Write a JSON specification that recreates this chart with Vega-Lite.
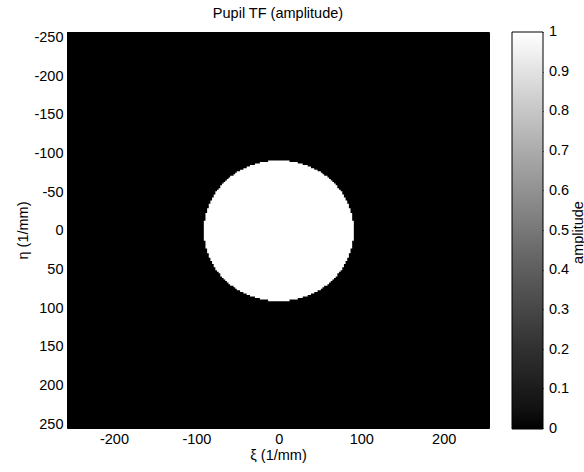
{
  "$schema": "https://vega.github.io/schema/vega-lite/v6.json",
  "width": 422,
  "height": 396,
  "autosize": {"type": "none"},
  "padding": {"left": 67, "top": 32, "right": 95, "bottom": 44},
  "background": "white",
  "title": {
    "text": "Pupil TF (amplitude)",
    "font": "Liberation Sans",
    "fontSize": 14.5,
    "fontWeight": "normal",
    "color": "black",
    "offset": 8
  },
  "data": {
    "values": [
      {"eta0": -257, "eta1": 255, "xi0": -257, "xi1": 255, "amplitude": 0},
      {"eta0": -13, "eta1": 13, "xi0": -91, "xi1": 91, "amplitude": 1},
      {"eta0": -23, "eta1": 23, "xi0": -89, "xi1": 89, "amplitude": 1},
      {"eta0": -29, "eta1": 29, "xi0": -87, "xi1": 87, "amplitude": 1},
      {"eta0": -35, "eta1": 35, "xi0": -85, "xi1": 85, "amplitude": 1},
      {"eta0": -39, "eta1": 39, "xi0": -83, "xi1": 83, "amplitude": 1},
      {"eta0": -43, "eta1": 43, "xi0": -81, "xi1": 81, "amplitude": 1},
      {"eta0": -47, "eta1": 47, "xi0": -79, "xi1": 79, "amplitude": 1},
      {"eta0": -51, "eta1": 51, "xi0": -77, "xi1": 77, "amplitude": 1},
      {"eta0": -53, "eta1": 53, "xi0": -75, "xi1": 75, "amplitude": 1},
      {"eta0": -55, "eta1": 55, "xi0": -73, "xi1": 73, "amplitude": 1},
      {"eta0": -59, "eta1": 59, "xi0": -71, "xi1": 71, "amplitude": 1},
      {"eta0": -61, "eta1": 61, "xi0": -69, "xi1": 69, "amplitude": 1},
      {"eta0": -63, "eta1": 63, "xi0": -67, "xi1": 67, "amplitude": 1},
      {"eta0": -65, "eta1": 65, "xi0": -65, "xi1": 65, "amplitude": 1},
      {"eta0": -67, "eta1": 67, "xi0": -63, "xi1": 63, "amplitude": 1},
      {"eta0": -69, "eta1": 69, "xi0": -61, "xi1": 61, "amplitude": 1},
      {"eta0": -71, "eta1": 71, "xi0": -59, "xi1": 59, "amplitude": 1},
      {"eta0": -73, "eta1": 73, "xi0": -55, "xi1": 55, "amplitude": 1},
      {"eta0": -75, "eta1": 75, "xi0": -53, "xi1": 53, "amplitude": 1},
      {"eta0": -77, "eta1": 77, "xi0": -51, "xi1": 51, "amplitude": 1},
      {"eta0": -79, "eta1": 79, "xi0": -47, "xi1": 47, "amplitude": 1},
      {"eta0": -81, "eta1": 81, "xi0": -43, "xi1": 43, "amplitude": 1},
      {"eta0": -83, "eta1": 83, "xi0": -39, "xi1": 39, "amplitude": 1},
      {"eta0": -85, "eta1": 85, "xi0": -35, "xi1": 35, "amplitude": 1},
      {"eta0": -87, "eta1": 87, "xi0": -29, "xi1": 29, "amplitude": 1},
      {"eta0": -89, "eta1": 89, "xi0": -23, "xi1": 23, "amplitude": 1},
      {"eta0": -91, "eta1": 91, "xi0": -13, "xi1": 13, "amplitude": 1}
    ]
  },
  "resolve": {"scale": {"y": "independent"}, "axis": {"y": "independent"}},
  "layer": [
    {
      "mark": {"type": "rect"},
      "encoding": {
        "x": {
          "field": "xi0",
          "type": "quantitative",
          "title": "ξ (1/mm)",
          "scale": {"domain": [-257, 255], "nice": false, "zero": false},
          "axis": {
            "values": [-200, -100, 0, 100, 200],
            "labelExpr": "(datum.value < 0 ? '-' : '') + abs(datum.value)",
            "ticks": false,
            "grid": false,
            "domain": false,
            "labelPadding": 4,
            "labelFont": "Liberation Sans",
            "labelFontSize": 14.5,
            "labelColor": "black",
            "titleFont": "Liberation Sans",
            "titleFontSize": 14.5,
            "titleFontWeight": "normal",
            "titleColor": "black",
            "titlePadding": 3
          }
        },
        "x2": {"field": "xi1"},
        "y": {
          "field": "eta0",
          "type": "quantitative",
          "title": "η (1/mm)",
          "scale": {"domain": [-257, 255], "reverse": true, "nice": false, "zero": false},
          "axis": {
            "orient": "left",
            "values": [-250, -200, -150, -100, -50, 0, 50, 100, 150, 200, 250],
            "labelExpr": "(datum.value < 0 ? '-' : '') + abs(datum.value)",
            "ticks": false,
            "grid": false,
            "domain": false,
            "labelPadding": 4,
            "labelFont": "Liberation Sans",
            "labelFontSize": 14.5,
            "labelColor": "black",
            "titleFont": "Liberation Sans",
            "titleFontSize": 14.5,
            "titleFontWeight": "normal",
            "titleColor": "black",
            "titlePadding": 3
          }
        },
        "y2": {"field": "eta1"},
        "color": {
          "field": "amplitude",
          "type": "quantitative",
          "scale": {"domain": [0, 1], "range": ["black", "white"]},
          "legend": {
            "type": "gradient",
            "orient": "none",
            "legendX": 445,
            "legendY": 0,
            "direction": "vertical",
            "gradientLength": 397,
            "gradientThickness": 31,
            "gradientStrokeColor": "black",
            "gradientStrokeWidth": 1,
            "values": [0.0001, 0.1, 0.2, 0.3, 0.4, 0.5, 0.6, 0.7, 0.8, 0.9, 0.9999],
            "format": ".1~f",
            "labelFont": "Liberation Sans",
            "labelFontSize": 14.5,
            "labelColor": "black",
            "labelOffset": 6,
            "labelBaseline": "middle",
            "labelOverlap": false,
            "title": null
          }
        }
      }
    },
    {
      "mark": {"type": "rule", "opacity": 0},
      "encoding": {
        "y": {
          "field": "amplitude",
          "type": "quantitative",
          "scale": {"domain": [0, 1], "nice": false, "zero": false},
          "title": "amplitude",
          "axis": {
            "orient": "right",
            "offset": 23,
            "values": [0, 0.1, 0.2, 0.3, 0.4, 0.5, 0.6, 0.7, 0.8, 0.9, 1],
            "labels": false,
            "domain": false,
            "grid": false,
            "ticks": true,
            "tickSize": 4,
            "tickColor": "black",
            "tickWidth": 1,
            "titleFont": "Liberation Sans",
            "titleFontSize": 14.5,
            "titleFontWeight": "normal",
            "titleColor": "black",
            "titleAngle": 270,
            "titleAlign": "center",
            "titleBaseline": "middle",
            "titleX": 66,
            "titleY": 200
          }
        }
      }
    },
    {
      "mark": {"type": "rule", "opacity": 0},
      "encoding": {
        "y": {
          "field": "amplitude",
          "type": "quantitative",
          "scale": {"domain": [0, 1], "nice": false, "zero": false},
          "title": null,
          "axis": {
            "orient": "right",
            "offset": 54,
            "values": [0, 0.1, 0.2, 0.3, 0.4, 0.5, 0.6, 0.7, 0.8, 0.9, 1],
            "labels": false,
            "domain": false,
            "grid": false,
            "ticks": true,
            "tickSize": -4,
            "tickColor": "black",
            "tickWidth": 1
          }
        }
      }
    }
  ],
  "config": {"view": {"stroke": "black"}}
}
